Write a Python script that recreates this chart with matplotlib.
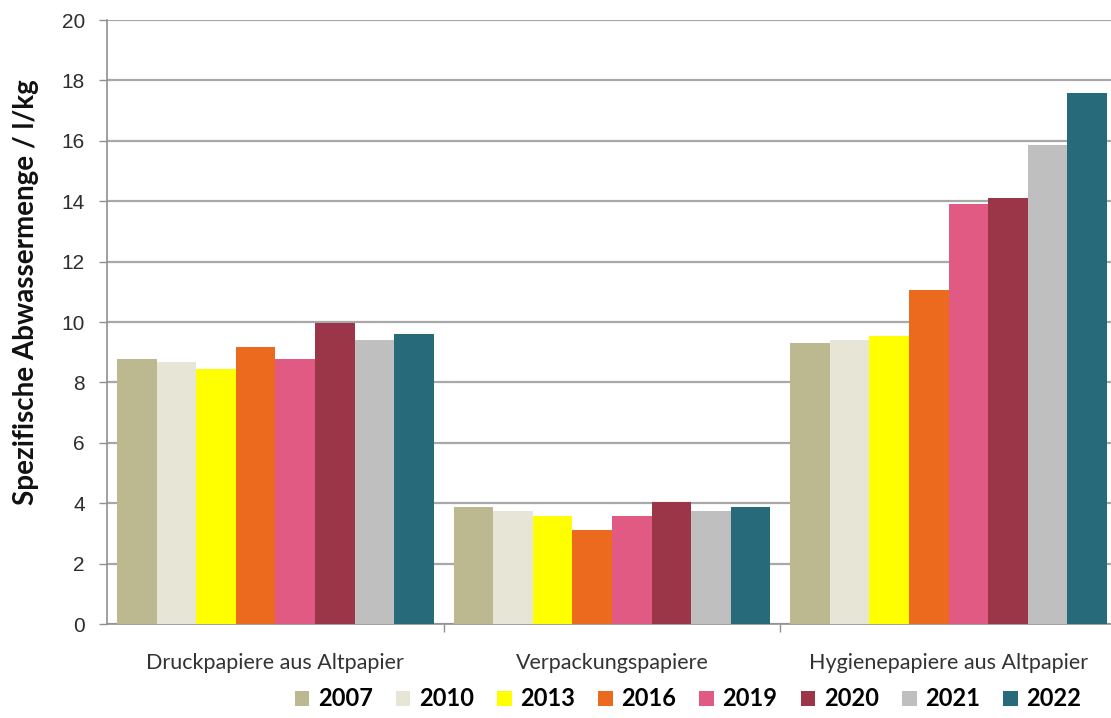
import matplotlib
matplotlib.use("Agg")
import matplotlib.pyplot as plt
import numpy as np
from matplotlib.patches import Patch

categories = ["Druckpapiere aus Altpapier", "Verpackungspapiere", "Hygienepapiere aus Altpapier"]
years = ["2007", "2010", "2013", "2016", "2019", "2020", "2021", "2022"]

v2007 = [8.78, 3.87, 9.30]
v2010 = [8.66, 3.74, 9.39]
v2013 = [8.46, 3.56, 9.55]
v2016 = [9.18, 3.11, 11.07]
v2019 = [8.78, 3.56, 13.91]
v2020 = [9.96, 4.04, 14.09]
v2021 = [9.42, 3.74, 15.87]
v2022 = [9.60, 3.87, 17.58]

series = [v2007, v2010, v2013, v2016, v2019, v2020, v2021, v2022]
colors = ["#bcb88f", "#e6e5d6", "#ffff00", "#ec6a1e", "#e05a83", "#9b3548", "#bfbfbf", "#276a7a"]

yticks = list(range(0, 21, 2))
ylabel = "Spezifische Abwassermenge / l/kg"

W, H = 1111, 718
fig = plt.figure(figsize=(W / 100, H / 100), dpi=100)
ax = fig.add_axes([107 / W, 1 - 624 / H, 1010 / W, 604 / H])

x = np.arange(len(categories))
n = len(series)
width = 0.941 / n
for i, (vals, col) in enumerate(zip(series, colors)):
    offs = (i - (n - 1) / 2) * width
    ax.bar(x + offs, vals, width=width, color=col, edgecolor="none", zorder=3)

ax.set_xlim(-0.5, len(categories) - 0.5)
ax.set_ylim(0, 20)
ax.set_yticks(yticks)
ax.set_yticklabels([str(t) for t in yticks], fontfamily="Liberation Sans",
                   fontsize=15, color="#2e2e2e")
ax.yaxis.grid(True, color="#a8a8a8", linewidth=1.6, zorder=0)
ax.set_axisbelow(True)

ax.set_xticks(x)
ax.set_xticklabels(categories, fontfamily="Lato", fontsize=15.5, color="#333333")
ax.set_xticks(np.arange(0.5, len(categories) - 0.5, 1.0), minor=True)
ax.tick_params(axis="x", which="major", length=0, pad=21)
ax.tick_params(axis="x", which="minor", length=6, width=1, color="#909090", direction="out")
ax.tick_params(axis="y", length=6, width=1, color="#909090", pad=10)

for side in ["top", "right"]:
    ax.spines[side].set_visible(False)
for side in ["left", "bottom"]:
    ax.spines[side].set_color("#909090")
    ax.spines[side].set_linewidth(1.2)

fig.text(26 / W, 1 - 292 / H, ylabel, rotation=90, ha="center", va="center",
         fontfamily="Lato", fontweight="bold", fontsize=20, color="#111111")

handles = [Patch(facecolor=c, edgecolor="none") for c in colors]
fig.legend(handles, years, loc="center", bbox_to_anchor=(688 / W, 1 - 699 / H), ncol=8,
           frameon=False, prop={"family": "Lato", "weight": "bold", "size": 17},
           handlelength=0.62, handleheight=0.62, handletextpad=0.36, columnspacing=0.98,
           borderpad=0, borderaxespad=0)

fig.savefig("out.png", dpi=100)
